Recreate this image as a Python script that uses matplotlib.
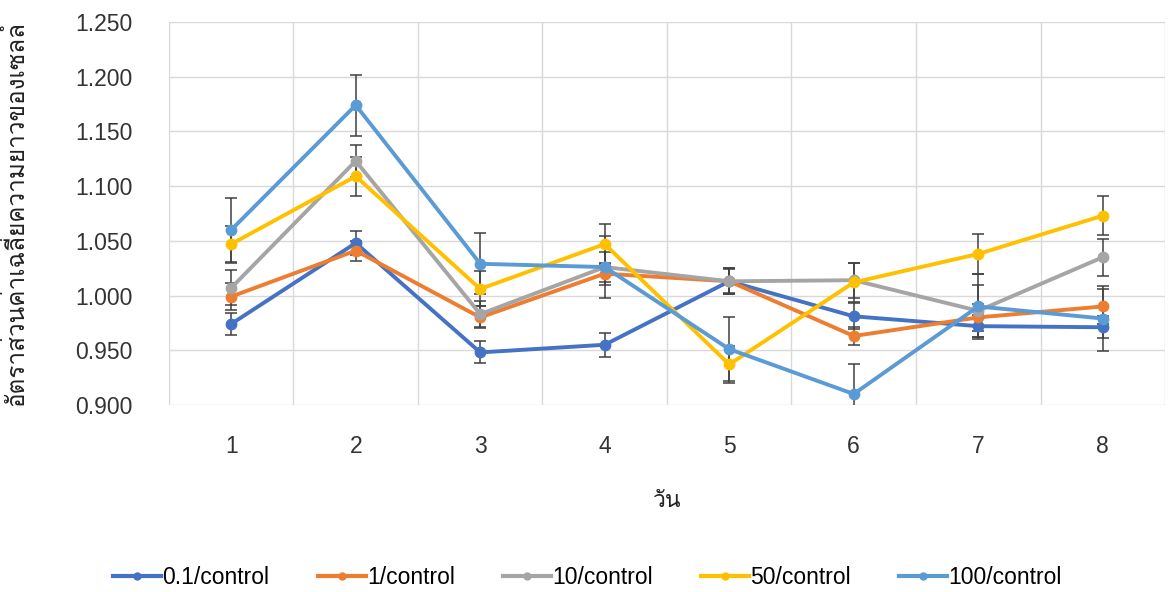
import numpy as np
import matplotlib
matplotlib.use('Agg')
import matplotlib.pyplot as plt
from matplotlib import font_manager
from matplotlib.ft2font import FT2Font
from matplotlib.lines import Line2D

# ── Data ──────────────────────────────────────────────────────────
days = [1, 2, 3, 4, 5, 6, 7, 8]
labels = ["0.1/control", "1/control", "10/control", "50/control", "100/control"]

r_01  = [0.974, 1.048, 0.948, 0.955, 1.013, 0.981, 0.972, 0.971]
r_1   = [0.999, 1.041, 0.980, 1.020, 1.013, 0.963, 0.980, 0.990]
r_10  = [1.007, 1.123, 0.983, 1.026, 1.013, 1.014, 0.986, 1.035]
r_50  = [1.047, 1.109, 1.006, 1.047, 0.937, 1.012, 1.038, 1.073]
r_100 = [1.060, 1.174, 1.029, 1.026, 0.951, 0.910, 0.990, 0.979]

e_01  = [0.010, 0.011, 0.010, 0.011, 0.012, 0.012, 0.010, 0.010]
e_1   = [0.012, 0.009, 0.010, 0.010, 0.012, 0.008, 0.012, 0.016]
e_10  = [0.016, 0.015, 0.012, 0.014, 0.011, 0.016, 0.024, 0.017]
e_50  = [0.017, 0.018, 0.016, 0.018, 0.017, 0.018, 0.018, 0.018]
e_100 = [0.029, 0.028, 0.028, 0.028, 0.029, 0.027, 0.030, 0.030]

colors = ["#4472C4", "#ED7D31", "#A5A5A5", "#FFC000", "#5B9BD5"]

# ── Fonts: pick an installed face that carries Thai glyphs ───────
def thai_family():
    for f in font_manager.fontManager.ttflist:
        try:
            cmap = FT2Font(f.fname).get_charmap()
        except Exception:
            continue
        if 0x0E27 in cmap and 0x0E31 in cmap:
            return f.name
    return "DejaVu Sans"

thai = thai_family()
plt.rcParams["font.family"] = ["Liberation Sans", thai, "DejaVu Sans"]
FS = 16.5

# ── Figure ────────────────────────────────────────────────────────
fig = plt.figure(figsize=(11.75, 5.92), dpi=100)
ax = fig.add_axes([0.1438, 0.316, 0.8477, 0.6468])

series = [r_01, r_1, r_10, r_50, r_100]
errors = [e_01, e_1, e_10, e_50, e_100]
for vals, err, col in zip(series, errors, colors):
    ax.errorbar(days, vals, yerr=err, color=col, lw=2.8, marker="o", ms=7.5,
                ecolor="#404040", elinewidth=1.1, capsize=4, capthick=1.1,
                zorder=3)

ax.set_xlim(0.5, 8.5)
ax.set_ylim(0.900, 1.250)
yt = np.arange(0.900, 1.2501, 0.050)
ax.set_yticks(yt)
ax.set_yticklabels([f"{v:.3f}" for v in yt])
ax.set_xticks(days)
ax.set_xticks(np.arange(0.5, 8.6, 1.0), minor=True)

ax.grid(True, which="major", axis="y", color="#D9D9D9", lw=1.0, zorder=0)
ax.grid(True, which="minor", axis="x", color="#D9D9D9", lw=1.0, zorder=0)
for s in ax.spines.values():
    s.set_visible(False)
ax.tick_params(axis="both", which="both", length=0, labelsize=FS,
               colors="#333333")
ax.tick_params(axis="x", pad=22)
ax.tick_params(axis="y", pad=26)

ax.set_xlabel("วัน", fontsize=FS, labelpad=22, color="#222222")
ax.set_ylabel("อัตราส่วนค่าเฉลี่ยความยาวของเซลล์", fontsize=17.5,
              color="#222222")
ax.yaxis.set_label_coords(-0.141, 0.5)

handles = [Line2D([], [], color=c, lw=3, marker="o", ms=5) for c in colors]
fig.legend(handles, labels, loc="center", bbox_to_anchor=(0.5, 0.025),
           ncol=5, frameon=False, fontsize=FS, handlelength=2.1,
           columnspacing=2.1, handletextpad=0.05)

fig.savefig("out.png", dpi=100)
